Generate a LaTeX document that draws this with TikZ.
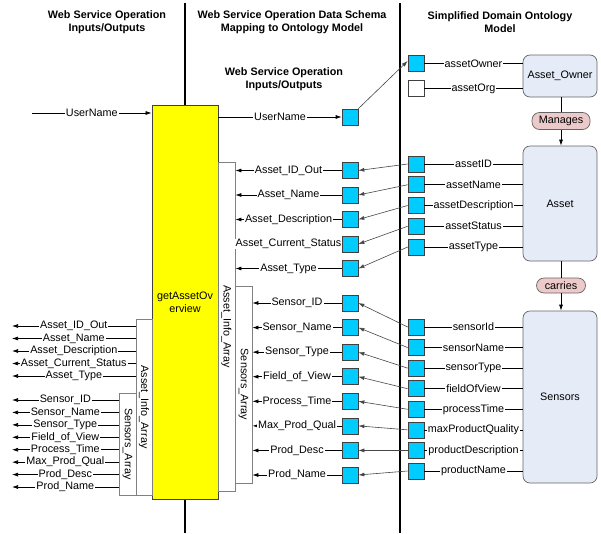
\documentclass[tikz,border=0pt]{standalone}
\usepackage{fontspec}
\setmainfont{Liberation Sans}
\usetikzlibrary{arrows.meta}
\definecolor{attrcyan}{RGB}{0,204,255}
\definecolor{opyellow}{RGB}{255,255,0}
\definecolor{ontofill}{RGB}{230,236,247}
\definecolor{ontoline}{RGB}{100,100,100}
\definecolor{relfill}{RGB}{236,202,202}
\definecolor{maplink}{RGB}{70,70,70}
\begin{document}
\begin{tikzpicture}[x=1pt,y=-1pt,
  font=\fontsize{10.8}{13}\selectfont,
  hdr/.style={font=\fontsize{10.8}{13}\selectfont\bfseries, align=center},
  attr/.style={draw=black!75, fill=attrcyan, minimum size=16, inner sep=0, line width=0.7pt},
  emptyattr/.style={attr, fill=white},
  lbl/.style={fill=white, inner xsep=1pt, inner ysep=0.5pt},
  tip/.style={-{Latex[length=6pt,width=4pt]}, line width=0.7pt},
  maparr/.style={-{Latex[length=6pt,width=4pt]}, draw=maplink, line width=0.6pt},
  arraybox/.style={draw=black!50, fill=white, line width=0.8pt, inner sep=0},
  onto/.style={draw=ontoline, fill=ontofill, rounded corners=7pt, line width=0.7pt, inner sep=0},
  rel/.style={draw=ontoline, fill=relfill, rounded corners=7.5pt, line width=0.7pt, inner sep=0},
  divider/.style={line width=1.8pt}
]
\useasboundingbox (0,0) rectangle (601,533);

% column headers
\node[hdr] (h1) at (107,22.5) {Web Service Operation\\Inputs/Outputs};
\node[hdr] (h2) at (292,22.5) {Web Service Operation Data Schema\\Mapping to Ontology Model};
\node[hdr] (h3) at (500,22.5) {Simplified Domain Ontology\\Model};
\node[hdr] (h4) at (284,79) {Web Service Operation\\Inputs/Outputs};

% column dividers
\coordinate (d1t) at (185,3);
\coordinate (d1b) at (185,533);
\coordinate (d2t) at (400,3);
\coordinate (d2b) at (400,533);
\draw[divider] (d1t) -- (d1b);
\draw[divider] (d2t) -- (d2b);

% the web service operation
\node[draw=black!75, fill=opyellow, minimum width=66, minimum height=394, inner sep=0,
      align=center, line width=0.8pt] (op) at (185,302) {getAssetOv\\erview};

% output arrays on the left of the operation
\node[arraybox, minimum width=16, minimum height=176] (laia) at (144,407) {};
\node[rotate=-90] (laiat) at (laia.center) {Asset\_Info\_Array};
\node[arraybox, minimum width=17, minimum height=102] (lsa) at (127.5,444) {};
\node[rotate=-90] (lsat) at (lsa.center) {Sensors\_Array};

% output arrays on the right of the operation
\node[arraybox, minimum width=17, minimum height=329] (maia) at (226.5,326.5) {};
\node[rotate=-90] (maiat) at (maia.center) {Asset\_Info\_Array};
\node[arraybox, minimum width=17, minimum height=197] (msa) at (243.5,384.5) {};
\node[rotate=-90] (msat) at (msa.center) {Sensors\_Array};

% input UserName
\coordinate (uin) at (32,113);
\draw[tip] (uin) -- (op.west |- uin) node[lbl, pos=0.5] (uinl) {UserName};

% ontology classes and relations
\node[onto, minimum width=74, minimum height=42] (owner) at (560,76) {Asset\_Owner};
\node[rel, minimum width=58, minimum height=17] (manages) at (561,121) {Manages};
\node[onto, minimum width=74, minimum height=115] (asset) at (560,203.5) {Asset};
\node[rel, minimum width=49, minimum height=15] (carries) at (561,285.5) {carries};
\node[onto, minimum width=74, minimum height=172] (sensors) at (560,397) {Sensors};
\draw[line width=0.7pt] (owner.south -| manages) -- (manages.north);
\draw[tip] (manages.south) -- (asset.north -| manages);
\draw[line width=0.7pt] (asset.south -| carries) -- (carries.north);
\draw[tip] (carries.south) -- (sensors.north -| carries);

% mapped UserName
\node[attr] (muser) at (350,117) {};
\draw[tip] (op.east |- muser) -- (muser.west) node[lbl, pos=0.5] (muserl) {UserName};
\node[attr] (rowner) at (416,63.5) {};
\node[emptyattr] (rorg) at (416,88.5) {};
\draw[line width=0.7pt] (rowner.east) -- (owner.west |- rowner) node[lbl, pos=0.5] (rownerl) {assetOwner};
\draw[line width=0.7pt] (rorg.east) -- (owner.west |- rorg) node[lbl, pos=0.5] (rorgl) {assetOrg};
\draw[maparr] (muser.north east) -- ([yshift=2.5]rowner.west);

% asset attributes: operation outputs, schema mapping, ontology properties
\foreach \t [count=\i from 0] in {Asset\_ID\_Out, Asset\_Name, Asset\_Description, Asset\_Current\_Status, Asset\_Type} {
  \pgfmathsetmacro\yl{326+12.5*\i}
  \coordinate (la\i) at (12,\yl);
  \draw[tip] (laia.west |- la\i) -- (la\i) node[lbl, pos=0.5] (lat\i) {\t};
  \pgfmathsetmacro\ym{170.5+24.5*\i}
  \node[attr] (ma\i) at (350,\ym) {};
  \draw[tip] (ma\i.west) -- (maia.east |- ma\i) node[lbl, pos=0.5] (mat\i) {\t};
}
\foreach \t [count=\i from 0] in {assetID, assetName, assetDescription, assetStatus, assetType} {
  \pgfmathsetmacro\yr{164+20.75*\i}
  \node[attr] (ra\i) at (416,\yr) {};
  \draw[line width=0.7pt] (ra\i.east) -- (asset.west |- ra\i) node[lbl, pos=0.5] (rat\i) {\t};
  \draw[maparr] (ra\i.west) -- (ma\i.east);
}

% sensor attributes
\foreach \t [count=\i from 0] in {Sensor\_ID, Sensor\_Name, Sensor\_Type, Field\_of\_View, Process\_Time, Max\_Prod\_Qual, Prod\_Desc, Prod\_Name} {
  \pgfmathsetmacro\yl{400+12.43*\i}
  \coordinate (ls\i) at (12,\yl);
  \draw[tip] (lsa.west |- ls\i) -- (ls\i) node[lbl, pos=0.5] (lst\i) {\t};
  \pgfmathsetmacro\ym{303+24.57*\i}
  \node[attr] (ms\i) at (350,\ym) {};
  \draw[tip] (ms\i.west) -- (msa.east |- ms\i) node[lbl, pos=0.5] (mst\i) {\t};
}
\foreach \t [count=\i from 0] in {sensorId, sensorName, sensorType, fieldOfView, processTime, maxProductQuality, productDescription, productName} {
  \pgfmathsetmacro\yr{327+20.57*\i}
  \node[attr] (rs\i) at (416,\yr) {};
  \draw[line width=0.7pt] (rs\i.east) -- (sensors.west |- rs\i) node[lbl, pos=0.5] (rst\i) {\t};
  \draw[maparr] (rs\i.west) -- (ms\i.east);
}
\end{tikzpicture}
\end{document}
